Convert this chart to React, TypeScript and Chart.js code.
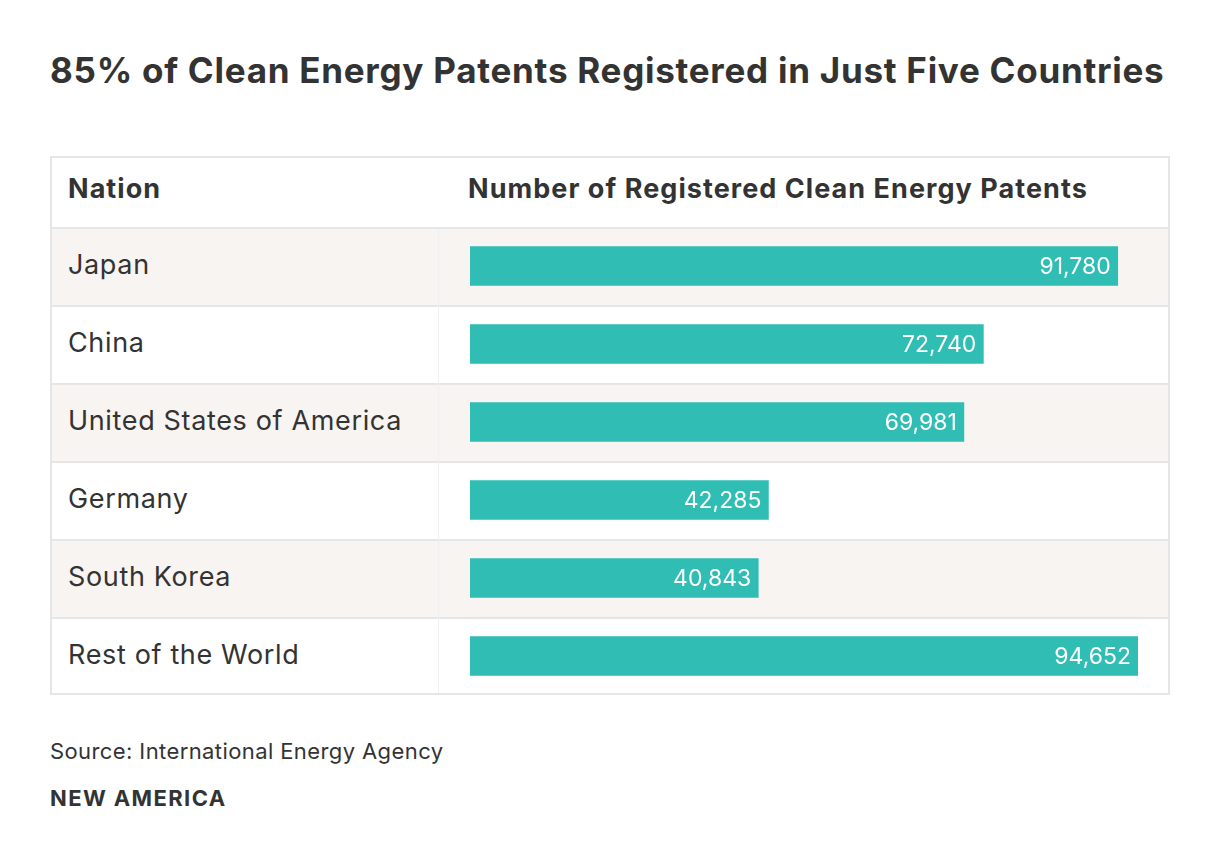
import React, { useEffect, useRef } from "react";
import { Chart, registerables } from "chart.js";

Chart.register(...registerables);

const title = "85% of Clean Energy Patents Registered in Just Five Countries";
const headerNation = "Nation";
const headerValue = "Number of Registered Clean Energy Patents";
const nations = ["Japan", "China", "United States of America", "Germany", "South Korea", "Rest of the World"];
const patents = [91780, 72740, 69981, 42285, 40843, 94652];
const sourceText = "Source: International Energy Agency";
const brand = "NEW AMERICA";

const FONT = "Inter, 'Noto Sans', sans-serif";
const TEXT = "#333333";
const BAR = "#2fbdb4";
const ROW_ALT = "#f7f4f1";
const LINE = "#e6e6e6";

const TABLE_L = 50;
const TABLE_R = 1170;
const TABLE_T = 156;
const HEADER_B = 227;
const ROW_H = 78;
const DIVIDER_X = 438;

const valueLabels = {
  id: "valueLabels",
  afterDatasetsDraw(chart: any) {
    const ctx = chart.ctx;
    const meta = chart.getDatasetMeta(0);
    ctx.save();
    ctx.fillStyle = "#ffffff";
    ctx.font = `400 23px ${FONT}`;
    ctx.textAlign = "right";
    ctx.textBaseline = "alphabetic";
    meta.data.forEach((bar: any, i: number) => {
      const v = chart.data.datasets[0].data[i] as number;
      ctx.fillText(v.toLocaleString("en-US"), bar.x - 7, bar.y + 8);
    });
    ctx.restore();
  },
};

function BarChart() {
  const ref = useRef<HTMLCanvasElement | null>(null);
  useEffect(() => {
    if (!ref.current) return;
    const chart = new Chart(ref.current, {
      type: "bar",
      data: {
        labels: nations,
        datasets: [
          {
            data: patents,
            backgroundColor: BAR,
            borderWidth: 0,
            barThickness: 39,
          },
        ],
      },
      options: {
        indexAxis: "y",
        animation: false,
        responsive: false,
        maintainAspectRatio: false,
        layout: { padding: { left: 32, right: 32, top: 0, bottom: 0 } },
        scales: {
          x: { display: false, min: 0, max: Math.max(...patents) },
          y: { display: false },
        },
        plugins: {
          legend: { display: false },
          tooltip: { enabled: false },
        },
      },
      plugins: [valueLabels],
    });
    return () => chart.destroy();
  }, []);
  return (
    <canvas
      ref={ref}
      width={TABLE_R - DIVIDER_X}
      height={ROW_H * nations.length}
      style={{
        position: "absolute",
        left: DIVIDER_X,
        top: HEADER_B,
        width: TABLE_R - DIVIDER_X,
        height: ROW_H * nations.length,
      }}
    />
  );
}

export default function App() {
  const tableB = HEADER_B + ROW_H * nations.length;
  return (
    <div
      style={{
        position: "absolute",
        left: 0,
        top: 0,
        width: 1220,
        height: 862,
        background: "#ffffff",
        fontFamily: FONT,
        color: TEXT,
      }}
    >
      <div
        style={{
          position: "absolute",
          left: 50,
          top: 50,
          fontSize: 35,
          fontWeight: 700,
          lineHeight: "40px",
          letterSpacing: "0.74px",
          whiteSpace: "nowrap",
        }}
      >
        {title}
      </div>

      {nations.map((n, i) => (
        <div
          key={n}
          style={{
            position: "absolute",
            left: TABLE_L + 2,
            top: HEADER_B + i * ROW_H,
            width: TABLE_R - TABLE_L - 4,
            height: ROW_H,
            boxSizing: "border-box",
            borderTop: `2px solid ${LINE}`,
            background: i % 2 === 0 ? ROW_ALT : "#ffffff",
          }}
        />
      ))}
      <div
        style={{
          position: "absolute",
          left: DIVIDER_X,
          top: HEADER_B + 2,
          width: 1,
          height: tableB - HEADER_B - 4,
          background: "#f0f0f0",
        }}
      />
      {/* table frame */}
      <div
        style={{
          position: "absolute",
          left: TABLE_L,
          top: TABLE_T,
          width: TABLE_R - TABLE_L,
          height: tableB - TABLE_T,
          boxSizing: "border-box",
          border: `2px solid ${LINE}`,
        }}
      />

      {/* header */}
      <div
        style={{
          position: "absolute",
          left: 68,
          top: TABLE_T - 3,
          height: HEADER_B - TABLE_T,
          display: "flex",
          alignItems: "center",
          fontSize: 27,
          fontWeight: 700,
          letterSpacing: "1.05px",
          whiteSpace: "nowrap",
        }}
      >
        {headerNation}
      </div>
      <div
        style={{
          position: "absolute",
          left: 468,
          top: TABLE_T - 3,
          height: HEADER_B - TABLE_T,
          display: "flex",
          alignItems: "center",
          fontSize: 27,
          fontWeight: 700,
          letterSpacing: "1.05px",
          whiteSpace: "nowrap",
        }}
      >
        {headerValue}
      </div>

      {nations.map((n, i) => (
        <div
          key={"l" + n}
          style={{
            position: "absolute",
            left: 68,
            top: HEADER_B + i * ROW_H - 2,
            height: ROW_H,
            display: "flex",
            alignItems: "center",
            fontSize: 27,
            fontWeight: 400,
            letterSpacing: "0.65px",
            whiteSpace: "nowrap",
          }}
        >
          {n}
        </div>
      ))}

      <BarChart />

      <div
        style={{
          position: "absolute",
          left: 50,
          top: 737,
          fontSize: 22,
          lineHeight: "28px",
          letterSpacing: "0.4px",
          whiteSpace: "nowrap",
        }}
      >
        {sourceText}
      </div>
      <div
        style={{
          position: "absolute",
          left: 50,
          top: 784,
          fontSize: 22,
          fontWeight: 700,
          lineHeight: "28px",
          letterSpacing: "1.4px",
          whiteSpace: "nowrap",
        }}
      >
        {brand}
      </div>
    </div>
  );
}
